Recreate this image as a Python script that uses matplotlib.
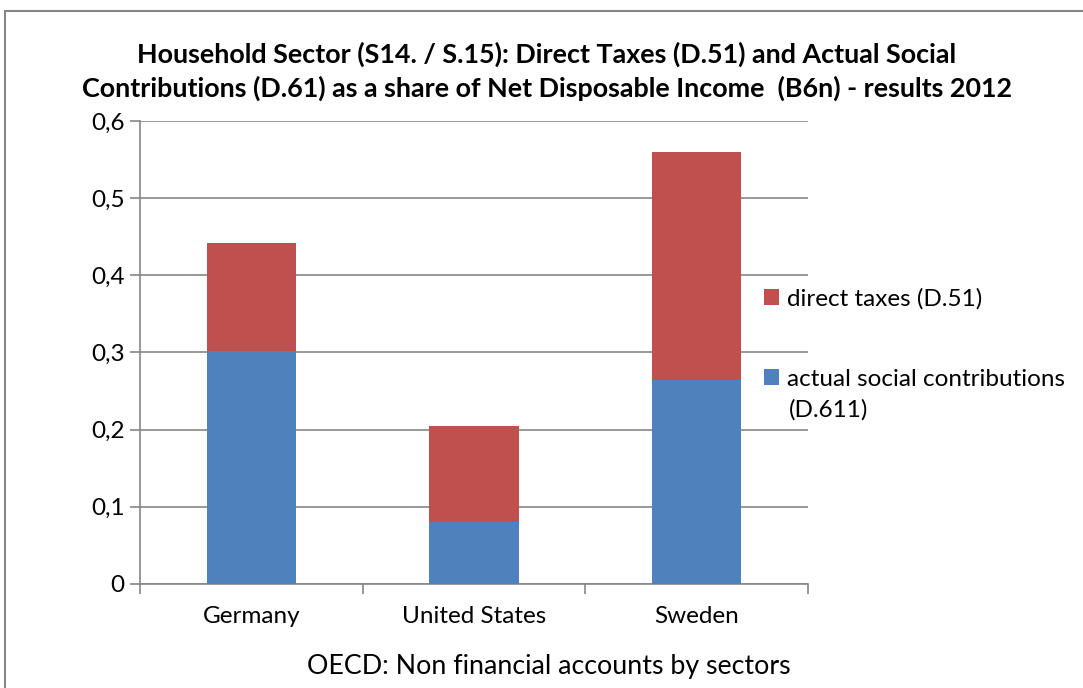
import matplotlib.pyplot as plt
from matplotlib.patches import Rectangle

countries = ["Germany", "United States", "Sweden"]
social_contrib = [0.302, 0.080, 0.264]
direct_taxes = [0.140, 0.125, 0.296]
y_ticks = [0, 0.1, 0.2, 0.3, 0.4, 0.5, 0.6]
y_tick_labels = ["0", "0,1", "0,2", "0,3", "0,4", "0,5", "0,6"]

BLUE = "#4F81BD"
RED = "#C0504D"
GREY = "#868686"

plt.rcParams["font.family"] = ["Lato", "DejaVu Sans"]

fig = plt.figure(figsize=(10.83, 6.88), dpi=100)
ax = fig.add_axes([0.1293, 0.1512, 0.6167, 0.6729])

x = range(len(countries))
b1 = ax.bar(x, social_contrib, width=0.4, color=BLUE, zorder=3)
b2 = ax.bar(x, direct_taxes, width=0.4, bottom=social_contrib, color=RED, zorder=3)

ax.set_xlim(-0.5, 2.5)
ax.set_ylim(0, 0.6)
ax.set_yticks(y_ticks)
ax.set_yticklabels(y_tick_labels, fontsize=17.5)
ax.set_xticks([0, 1, 2])
ax.set_xticklabels(countries, fontsize=17.5)
ax.set_xticks([-0.5, 0.5, 1.5, 2.5], minor=True)
ax.tick_params(axis="x", which="major", length=0, pad=16)
ax.tick_params(axis="x", which="minor", length=7, color=GREY, width=1.2)
ax.tick_params(axis="y", length=7, color=GREY, width=1.2, pad=4)
ax.yaxis.grid(True, color=GREY, linewidth=1.2, zorder=0)
for side in ["top", "right"]:
    ax.spines[side].set_visible(False)
for side in ["left", "bottom"]:
    ax.spines[side].set_color(GREY)
    ax.spines[side].set_linewidth(1.2)

fig.text(0.505, 0.896,
         "Household Sector (S14. / S.15): Direct Taxes (D.51) and Actual Social\n"
         "Contributions (D.61) as a share of Net Disposable Income  (B6n) - results 2012",
         ha="center", va="center", fontsize=19.4, fontweight="bold",
         linespacing=1.4)
fig.text(0.507, 0.031, "OECD: Non financial accounts by sectors",
         ha="center", va="center", fontsize=19.3)

fig.legend([b2, b1], ["direct taxes (D.51)", "actual social contributions"],
           loc="upper left", bbox_to_anchor=(0.6854, 0.613), frameon=False,
           fontsize=17.5, handlelength=0.62, handleheight=0.62, handletextpad=0.3,
           labelspacing=2.43)
fig.text(789 / 1083, 1 - 410 / 688, "(D.611)", ha="left", va="center", fontsize=17.5)

fig.add_artist(Rectangle((5 / 1083, -0.2), 2, 1.2 - 11 / 688,
                         transform=fig.transFigure, fill=False,
                         edgecolor=GREY, linewidth=1.5, clip_on=False))

fig.savefig("out.png", dpi=100)
